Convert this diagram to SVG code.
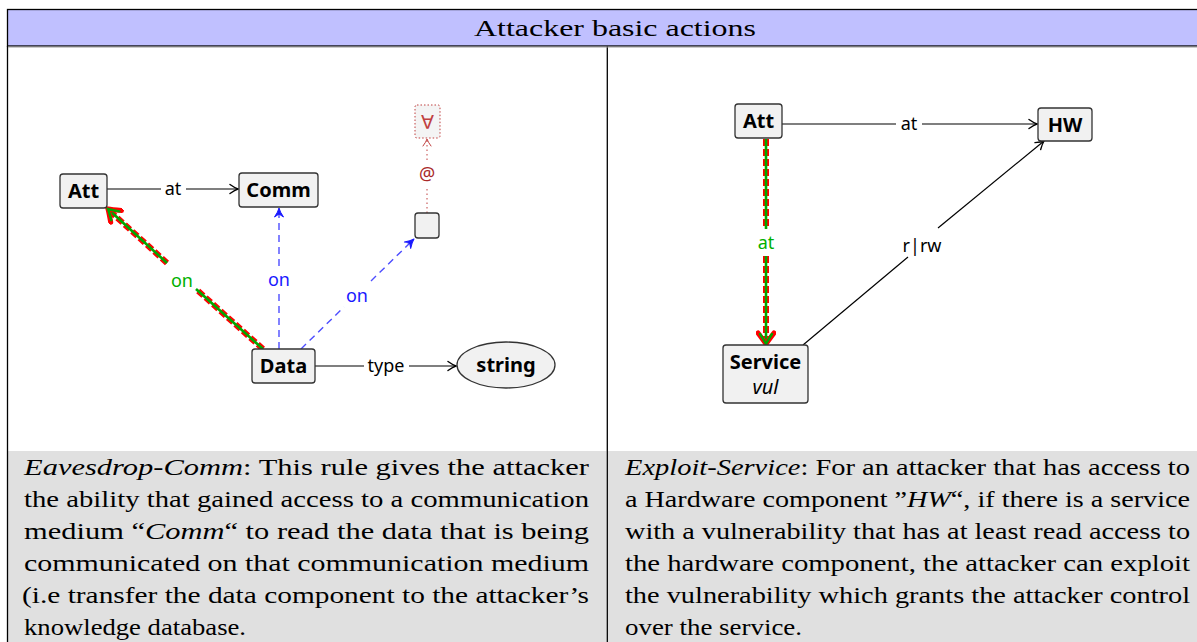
<svg xmlns="http://www.w3.org/2000/svg" width="1197" height="642" viewBox="0 0 1197 642">
<style>
.node{fill:#f1f1f1;stroke:#333;stroke-width:1.3}
.nl{font-family:"Noto Sans",sans-serif;font-weight:bold;font-size:20px;fill:#000;text-anchor:middle}
.el{font-family:"Noto Sans",sans-serif;font-size:18px;text-anchor:middle}
.cap{font-family:"Liberation Serif",serif;font-size:24px;fill:#000}
.blk{stroke:#000;stroke-width:1.2;fill:none}
.blu{stroke:#4d4dff;stroke-width:1.4;fill:none;stroke-dasharray:7 5}
.red{stroke:#ff0000;stroke-width:6;fill:none;stroke-dasharray:7 3}
.grn{stroke:#00a800;stroke-width:2.6;fill:none}
</style>
<defs>
<marker id="ah" viewBox="-10 -6 12 12" refX="0" refY="0" markerWidth="12" markerHeight="12" orient="auto" markerUnits="userSpaceOnUse"><path d="M-8,-4.5 Q-3,-1 0,0 Q-3,1 -8,4.5" fill="none" stroke="#000" stroke-width="1.4" stroke-linecap="round"/></marker>
<marker id="ab" viewBox="-10 -6 12 12" refX="0" refY="0" markerWidth="12" markerHeight="12" orient="auto" markerUnits="userSpaceOnUse"><path d="M-9,-4.5 Q-4,-1 0,0 Q-4,1 -9,4.5 L-6,0 Z" fill="#1a1aff" stroke="#1a1aff" stroke-width="1" stroke-linejoin="round"/></marker>
<marker id="ar" viewBox="-10 -6 12 12" refX="0" refY="0" markerWidth="12" markerHeight="12" orient="auto" markerUnits="userSpaceOnUse"><path d="M-7,-4 Q-3,-1 0,0 Q-3,1 -7,4" fill="none" stroke="#c04040" stroke-width="1" stroke-linecap="round"/></marker>
<marker id="ag" viewBox="-16 -10 20 20" refX="0" refY="0" markerWidth="20" markerHeight="20" orient="auto" markerUnits="userSpaceOnUse"><path d="M-11,-8 Q-3,-2 0,0 Q-3,2 -11,8" fill="none" stroke="#ff0000" stroke-width="5" stroke-linecap="round"/><path d="M-10,-6 Q-3,-1.5 0,0 Q-3,1.5 -10,6" fill="none" stroke="#00a800" stroke-width="2.4" stroke-linecap="round"/></marker>
</defs>

<!-- table frame -->
<g id="table">
<rect x="7.5" y="9.5" width="1200" height="36.5" fill="#c0c0ff" stroke="#000" stroke-width="1.3"/>
<rect x="8" y="451" width="598.5" height="191" fill="#e0e0e0"/>
<rect x="608" y="451" width="589" height="191" fill="#e0e0e0"/>
<line x1="7.5" y1="46" x2="7.5" y2="642" stroke="#000" stroke-width="1.3"/>
<line x1="607.3" y1="46" x2="607.3" y2="642" stroke="#000" stroke-width="1.3"/>
<line x1="8" y1="47" x2="1197" y2="47" stroke="#999" stroke-width="1"/>
<text class="cap" x="474" y="36" textLength="282" lengthAdjust="spacingAndGlyphs" font-size="23">Attacker basic actions</text>
</g>

<!-- captions -->
<g id="caption-left" class="cap">
<text x="24" y="475" textLength="565" lengthAdjust="spacingAndGlyphs"><tspan font-style="italic">Eavesdrop-Comm</tspan>:  This rule gives the attacker</text>
<text x="24" y="507" textLength="565" lengthAdjust="spacingAndGlyphs">the ability that gained access to a communication</text>
<text x="24" y="539" textLength="565" lengthAdjust="spacingAndGlyphs">medium “<tspan font-style="italic">Comm</tspan>“ to read the data that is being</text>
<text x="24" y="571" textLength="565" lengthAdjust="spacingAndGlyphs">communicated on that communication medium</text>
<text x="22" y="603" textLength="567" lengthAdjust="spacingAndGlyphs">(i.e transfer the data component to the attacker’s</text>
<text x="24" y="635" textLength="222" lengthAdjust="spacingAndGlyphs">knowledge database.</text>
</g>
<g id="caption-right" class="cap">
<text x="625" y="475" textLength="565" lengthAdjust="spacingAndGlyphs"><tspan font-style="italic">Exploit-Service</tspan>: For an attacker that has access to</text>
<text x="625" y="507" textLength="565" lengthAdjust="spacingAndGlyphs">a Hardware component ”<tspan font-style="italic">HW</tspan>“, if there is a service</text>
<text x="625" y="539" textLength="565" lengthAdjust="spacingAndGlyphs">with a vulnerability that has at least read access to</text>
<text x="625" y="571" textLength="565" lengthAdjust="spacingAndGlyphs">the hardware component, the attacker can exploit</text>
<text x="625" y="603" textLength="565" lengthAdjust="spacingAndGlyphs">the vulnerability which grants the attacker control</text>
<text x="625" y="635" textLength="177" lengthAdjust="spacingAndGlyphs">over the service.</text>
</g>

<!-- connectors -->
<g id="connectors">
<!-- left panel -->
<line class="blk" x1="107" y1="189" x2="161" y2="189"/>
<line class="blk" x1="186" y1="189" x2="238" y2="189" marker-end="url(#ah)"/>
<text class="el" x="173" y="195" fill="#000">at</text>

<line class="blk" x1="315" y1="366" x2="364" y2="366"/>
<line class="blk" x1="409" y1="366" x2="456" y2="366" marker-end="url(#ah)"/>
<text class="el" x="386" y="372" fill="#000">type</text>

<line class="blu" x1="279" y1="349" x2="279" y2="294"/>
<line class="blu" x1="279" y1="266" x2="279" y2="208" marker-end="url(#ab)"/>
<text class="el" x="279" y="286" fill="#1a1aff">on</text>

<line class="blu" x1="301" y1="349" x2="344" y2="307"/>
<line class="blu" x1="371" y1="281" x2="414" y2="239" marker-end="url(#ab)"/>
<text class="el" x="357" y="302" fill="#1a1aff">on</text>

<line x1="427" y1="213" x2="427" y2="187" stroke="#c04040" stroke-width="1" stroke-dasharray="1.5 3"/>
<line x1="427" y1="160" x2="427" y2="139" stroke="#c04040" stroke-width="1" stroke-dasharray="1.5 3" marker-end="url(#ar)"/>
<text class="el" x="427" y="180" fill="#a82828" font-size="22">@</text>

<line class="red" x1="263" y1="349" x2="196" y2="289"/>
<line class="grn" x1="263" y1="349" x2="196" y2="289"/>
<line class="red" x1="167" y1="263" x2="112" y2="213"/>
<line class="grn" x1="167" y1="263" x2="108" y2="209" marker-end="url(#ag)"/>
<text class="el" x="182" y="287" fill="#00b000">on</text>

<!-- right panel -->
<line class="blk" x1="782" y1="124" x2="896" y2="124"/>
<line class="blk" x1="922" y1="124" x2="1037" y2="124" marker-end="url(#ah)"/>
<text class="el" x="909" y="130" fill="#000">at</text>

<line class="blk" x1="803" y1="345" x2="908" y2="257"/>
<line class="blk" x1="938" y1="228" x2="1044" y2="141" marker-end="url(#ah)"/>
<text class="el" x="922" y="252" fill="#000">r|rw</text>

<line class="red" x1="766" y1="139" x2="766" y2="229"/>
<line class="grn" x1="766" y1="139" x2="766" y2="229"/>
<line class="red" x1="766" y1="256" x2="766" y2="338"/>
<line class="grn" x1="766" y1="256" x2="766" y2="344" marker-end="url(#ag)"/>
<text class="el" x="766" y="249" fill="#00b000">at</text>
</g>

<!-- left nodes -->
<g id="n-att-l"><rect class="node" x="60" y="174" width="47" height="34" rx="3"/><text class="nl" x="83.5" y="198">Att</text></g>
<g id="n-comm"><rect class="node" x="239" y="173" width="79" height="34" rx="3"/><text class="nl" x="278.5" y="197">Comm</text></g>
<g id="n-data"><rect class="node" x="252" y="349" width="63" height="34" rx="3"/><text class="nl" x="283.5" y="373">Data</text></g>
<g id="n-string"><ellipse class="node" cx="506" cy="365" rx="49" ry="23"/><text class="nl" x="506" y="372">string</text></g>
<g id="n-box"><rect class="node" x="415" y="213" width="24" height="25" rx="3"/></g>
<g id="n-forall"><rect x="415" y="105" width="25" height="33" rx="2" fill="#f4f4f4" stroke="#c04040" stroke-width="1" stroke-dasharray="1.5 2"/><text x="427.5" y="129" text-anchor="middle" font-family="DejaVu Sans,sans-serif" font-size="19" fill="#c04040">∀</text></g>

<!-- right nodes -->
<g id="n-att-r"><rect class="node" x="735" y="104" width="47" height="34" rx="3"/><text class="nl" x="758.5" y="128">Att</text></g>
<g id="n-hw"><rect class="node" x="1038" y="108" width="54" height="33" rx="3"/><text class="nl" x="1065" y="132">HW</text></g>
<g id="n-service"><rect class="node" x="723" y="345" width="85" height="58" rx="3"/><text class="nl" x="765.5" y="369">Service</text><text x="765.5" y="394" text-anchor="middle" font-family="Noto Sans,sans-serif" font-style="italic" font-size="20">vul</text></g>
</svg>
